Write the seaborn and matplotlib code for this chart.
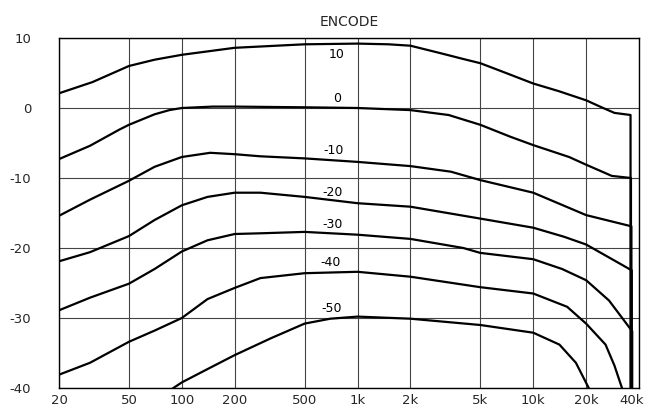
import pandas as pd
import matplotlib
matplotlib.use("Agg")
import matplotlib.pyplot as plt
import matplotlib.transforms as mtransforms
import seaborn as sns
from matplotlib.ticker import NullLocator

# curve names (input level)
levels = ["10", "0", "-10", "-20", "-30", "-40", "-50"]

# frequency (Hz) and output level (dB) per curve
freq_10 = [20, 31, 50, 70, 100, 200, 500, 1000, 1500, 2000, 3000, 4000, 5000, 7000, 10000, 14000, 20000, 25000, 29000, 35800, 35800]
db_10 = [2.1, 3.7, 6.0, 6.9, 7.6, 8.6, 9.1, 9.2, 9.1, 8.9, 7.8, 7.0, 6.4, 5.0, 3.5, 2.4, 1.1, 0.0, -0.7, -1.0, -45]

freq_0 = [20, 30, 44, 50, 70, 85, 100, 150, 200, 500, 1000, 2000, 3300, 5000, 7400, 10000, 16000, 20000, 28000, 36000, 36000]
db_0 = [-7.3, -5.4, -3.1, -2.4, -0.9, -0.3, 0.0, 0.2, 0.2, 0.1, 0.0, -0.3, -1.0, -2.4, -4.1, -5.3, -7.0, -8.1, -9.7, -10.0, -45]

freq_m10 = [20, 30, 50, 70, 100, 145, 200, 280, 500, 1000, 2000, 3400, 5000, 10000, 20000, 36200, 36200]
db_m10 = [-15.4, -13.1, -10.4, -8.4, -7.0, -6.4, -6.6, -6.9, -7.2, -7.7, -8.3, -9.1, -10.3, -12.1, -15.3, -16.9, -45]

freq_m20 = [20, 30, 50, 70, 100, 140, 200, 280, 500, 1000, 2000, 5000, 10000, 15000, 20000, 36400, 36400]
db_m20 = [-21.9, -20.6, -18.3, -16.0, -13.9, -12.7, -12.1, -12.1, -12.7, -13.6, -14.1, -15.8, -17.1, -18.4, -19.5, -23.2, -45]

freq_m30 = [20, 30, 50, 70, 100, 140, 200, 280, 500, 1000, 2000, 4000, 5000, 10000, 14600, 20000, 27000, 36600, 36600]
db_m30 = [-28.9, -27.1, -25.1, -23.0, -20.5, -18.9, -18.0, -17.9, -17.7, -18.1, -18.7, -20.0, -20.7, -21.6, -23.0, -24.6, -27.5, -31.9, -45]

freq_m40 = [20, 30, 50, 70, 100, 140, 200, 280, 500, 1000, 2000, 5000, 10000, 15600, 20000, 25800, 29000, 32000, 33000]
db_m40 = [-38.1, -36.4, -33.4, -31.8, -30.0, -27.3, -25.7, -24.3, -23.6, -23.4, -24.1, -25.6, -26.5, -28.4, -30.8, -33.8, -36.8, -40.0, -41.5]

freq_m50 = [78, 100, 140, 200, 321, 500, 700, 1000, 2000, 5000, 10000, 14100, 17500, 20700, 21500]
db_m50 = [-41.0, -39.2, -37.3, -35.3, -32.9, -30.8, -30.1, -29.8, -30.1, -31.0, -32.1, -33.8, -36.4, -40.0, -41.5]

# curve label positions (Hz, dB)
label_x = [760, 770, 730, 720, 720, 700, 710]
label_y = [7.6, 1.4, -6.1, -12.1, -16.6, -22.1, -28.6]

xticks = [20, 50, 100, 200, 500, 1000, 2000, 5000, 10000, 20000, 40000]
xtick_labels = ["20", "50", "100", "200", "500", "1k", "2k", "5k", "10k", "20k", "40k"]
yticks = [10, 0, -10, -20, -30, -40]
ytick_labels = ["10", "0", "-10", "-20", "-30", "-40"]

freqs = [freq_10, freq_0, freq_m10, freq_m20, freq_m30, freq_m40, freq_m50]
dbs = [db_10, db_0, db_m10, db_m20, db_m30, db_m40, db_m50]

rows = []
for name, f, d in zip(levels, freqs, dbs):
    for i, (fx, dy) in enumerate(zip(f, d)):
        rows.append({"curve": name, "order": i, "freq": fx, "db": dy})
df = pd.DataFrame(rows)

sns.set_theme(style="white")
plt.rcParams["font.family"] = ["DejaVu Sans"]

fig = plt.figure(figsize=(6.46, 4.09), dpi=100)
ax = fig.add_axes([59 / 646, 1 - 388 / 409, 580 / 646, 350 / 409])

sns.lineplot(data=df, x="freq", y="db", hue="curve", units="curve",
             estimator=None, sort=False, palette=["black"] * len(levels),
             linewidth=1.6, legend=False, ax=ax)

ax.set_xscale("log")
ax.set_xlim(20, 40000)
ax.set_ylim(-40, 10)
ax.set_xticks(xticks)
ax.set_xticklabels(xtick_labels)
ax.xaxis.set_minor_locator(NullLocator())
ax.set_yticks(yticks)
ax.set_yticklabels(ytick_labels)
ax.tick_params(axis="x", length=0, pad=4, labelsize=9.5)
ax.tick_params(axis="y", length=0, pad=20, labelsize=9.5)
ax.set_xlabel("")
ax.set_ylabel("")
ax.grid(True, color="#444444", linewidth=0.8)
for s in ax.spines.values():
    s.set_color("black")
    s.set_linewidth(1.0)

# keep the last x label inside the figure
last = ax.get_xticklabels()[-1]
last.set_transform(last.get_transform() + mtransforms.ScaledTranslation(-0.07, 0, fig.dpi_scale_trans))

for name, lx, ly in zip(levels, label_x, label_y):
    ax.text(lx, ly, name, ha="center", va="center", fontsize=9, color="black")

ax.set_title("ENCODE", fontsize=10, pad=9)

fig.savefig("out.png", dpi=100)
plt.close(fig)
